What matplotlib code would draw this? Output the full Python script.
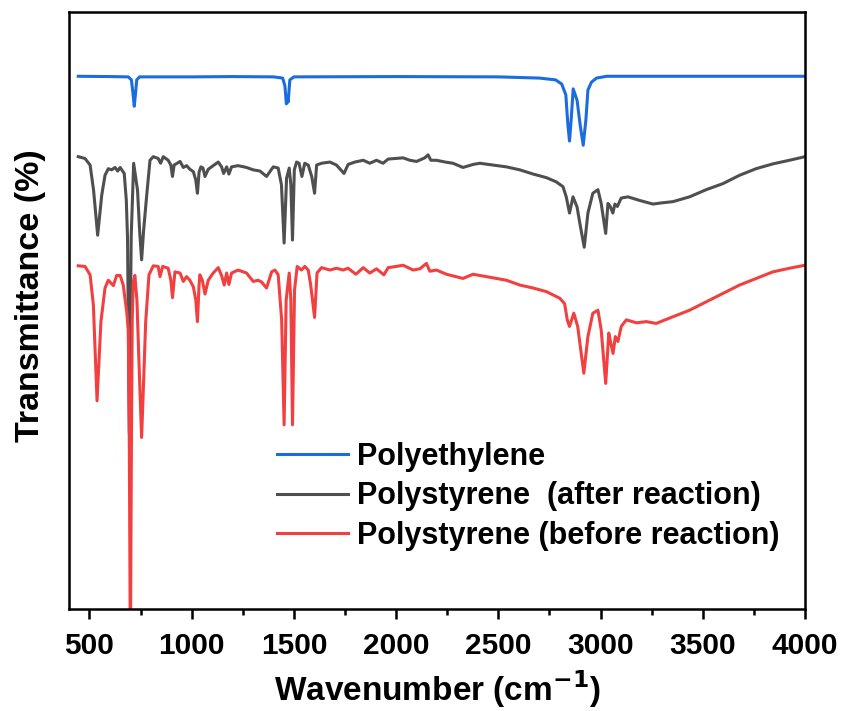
import matplotlib
matplotlib.use('Agg')
import matplotlib.pyplot as plt
from matplotlib.ticker import MultipleLocator

plt.rcParams['font.family'] = ['Liberation Sans', 'DejaVu Sans']
plt.rcParams['font.weight'] = 'bold'

# values (wavenumber in cm-1, transmittance in arbitrary %)
pe_wn = [445, 600, 690, 705, 712, 719, 726, 731, 745, 1000, 1200, 1400, 1445, 1456,
         1463, 1468, 1472, 1480, 1500, 2000, 2500, 2700, 2780, 2810, 2830, 2840, 2848,
         2856, 2866, 2885, 2900, 2915, 2928, 2938, 2955, 2980, 3030, 3500, 4000]
pe_t = [88.8, 88.75, 88.7, 88.2, 86.2, 83.8, 86.2, 88.2, 88.7, 88.7, 88.75, 88.7, 88.5, 87.2,
        84.2, 85.0, 84.5, 88.2, 88.7, 88.75, 88.7, 88.5, 88.2, 87.5, 85.7, 80.7, 78.0,
        81.5, 86.7, 84.8, 80.7, 77.3, 81.5, 86.5, 87.8, 88.5, 88.8, 88.8, 88.8]

ps_after_wn = [445, 478, 503, 520, 540, 560, 576, 592, 608, 625, 638, 650, 670, 680, 686,
               695, 704, 716, 735, 745, 755, 765, 780, 796, 812, 836, 848, 861, 885, 898,
               906, 914, 943, 959, 975, 991, 1008, 1020, 1028, 1036, 1045, 1055, 1065, 1081,
               1105, 1130, 1146, 1156, 1171, 1182, 1195, 1227, 1268, 1301, 1334, 1366, 1399,
               1423, 1439, 1452, 1464, 1477, 1485, 1493, 1502, 1513, 1525, 1539, 1553, 1570,
               1587, 1601, 1611, 1635, 1676, 1708, 1745, 1765, 1798, 1839, 1871, 1904, 1936,
               1961, 2001, 2034, 2067, 2100, 2140, 2156, 2170, 2197, 2240, 2278, 2327, 2376,
               2409, 2474, 2539, 2605, 2670, 2735, 2783, 2816, 2832, 2848, 2865, 2885, 2900,
               2920, 2938, 2962, 2987, 3003, 3025, 3036, 3047, 3060, 3070, 3082, 3101, 3134,
               3191, 3256, 3300, 3354, 3435, 3517, 3598, 3680, 3761, 3843, 3924, 4000]
ps_after_t = [75.4, 75.1, 74.0, 69.8, 62.3, 69.0, 72.3, 73.4, 73.2, 73.6, 73.0, 73.6, 72.6, 68.2, 62.0,
              29.3, 62.0, 74.3, 69.8, 63.2, 58.2, 63.2, 69.0, 74.8, 75.4, 75.1, 74.3, 75.4, 74.8, 74.0,
              72.1, 74.0, 74.6, 73.6, 73.9, 73.3, 72.9, 71.5, 69.3, 72.8, 73.7, 73.5, 72.1, 73.3,
              73.9, 74.5, 73.7, 72.6, 73.7, 72.5, 73.7, 73.9, 73.6, 73.2, 73.0, 72.1, 73.7,
              73.5, 70.7, 61.0, 71.8, 73.5, 70.7, 61.5, 73.2, 74.5, 74.3, 72.1, 74.3, 74.0,
              72.1, 69.3, 74.0, 74.3, 74.5, 74.0, 72.6, 74.1, 74.5, 74.8, 74.3, 74.8, 74.3,
              75.0, 75.1, 75.2, 74.8, 74.6, 75.2, 75.7, 74.8, 74.8, 74.5, 74.3, 73.6, 74.1,
              74.3, 74.0, 73.7, 73.2, 72.5, 71.9, 71.2, 70.4, 68.7, 66.0, 68.7, 67.0, 64.0,
              60.3, 66.0, 69.3, 69.9, 67.6, 62.6, 67.6, 67.1, 66.0, 67.5, 67.1, 68.5, 68.7,
              68.1, 67.5, 67.7, 67.9, 68.7, 69.9, 70.9, 72.3, 73.4, 74.2, 74.8, 75.4]

ps_before_wn = [445, 478, 503, 519, 537, 556, 576, 592, 617, 633, 650, 665, 682, 690, 695,
                700, 705, 709, 714, 722, 732, 745, 755, 765, 775, 791, 812, 836, 845, 858,
                885, 898, 906, 914, 918, 943, 959, 975, 991, 1008, 1020, 1028, 1036, 1040,
                1052, 1065, 1081, 1105, 1130, 1146, 1159, 1171, 1182, 1195, 1227, 1268, 1301,
                1325, 1342, 1366, 1391, 1407, 1423, 1440, 1452, 1462, 1477, 1485, 1493, 1503,
                1516, 1537, 1553, 1570, 1582, 1601, 1613, 1635, 1676, 1708, 1741, 1765, 1803,
                1839, 1871, 1904, 1940, 1961, 2001, 2034, 2058, 2083, 2116, 2148, 2165, 2197,
                2246, 2327, 2376, 2441, 2539, 2605, 2670, 2735, 2800, 2824, 2837, 2848, 2869,
                2888, 2900, 2918, 2938, 2962, 2987, 3003, 3025, 3040, 3050, 3061, 3072, 3085,
                3101, 3126, 3175, 3224, 3272, 3338, 3435, 3517, 3598, 3680, 3761, 3843, 3924, 4000]
ps_before_t = [57.2, 57.1, 55.7, 50.7, 34.7, 47.9, 53.5, 54.8, 53.9, 55.6, 55.6, 54.0, 49.6, 46.5, 26.5,
               -8.5, 26.5, 48.2, 54.5, 55.6, 51.5, 38.2, 28.6, 38.2, 47.9, 55.7, 57.2, 57.1, 55.4, 57.1,
               56.8, 54.8, 51.9, 54.8, 56.2, 56.0, 54.6, 55.4, 54.8, 53.7, 51.5, 47.9, 54.0, 55.7,
               54.8, 52.5, 54.8, 56.0, 56.9, 55.6, 54.0, 56.0, 54.1, 56.0, 56.5, 56.0, 54.6,
               54.8, 54.5, 53.5, 56.2, 56.5, 55.7, 48.2, 30.7, 51.5, 56.0, 51.5, 30.7, 53.2,
               57.1, 56.5, 57.1, 56.5, 54.0, 48.6, 56.0, 56.9, 56.5, 56.8, 56.5, 56.8, 55.8,
               56.9, 56.0, 56.7, 55.7, 56.9, 57.1, 57.3, 56.9, 56.5, 56.7, 57.6, 56.3, 56.5,
               55.8, 55.1, 55.8, 55.4, 54.8, 54.0, 53.5, 52.9, 51.8, 50.9, 48.2, 47.1, 49.3,
               47.1, 44.0, 39.3, 45.4, 49.3, 49.8, 46.5, 37.6, 46.0, 44.3, 42.6, 45.4, 44.6,
               47.1, 48.2, 47.7, 47.9, 47.6, 48.5, 49.8, 51.2, 52.6, 54.0, 55.1, 56.2, 56.8, 57.3]

labels = ['Polyethylene', 'Polystyrene  (after reaction)', 'Polystyrene (before reaction)']
colors = ['#1b6ddf', '#4f4f4f', '#f23f3f']

fig = plt.figure(figsize=(8.45, 7.11), dpi=100)
ax = fig.add_axes([0.0817, 0.1435, 0.8710, 0.8395])

ax.plot(pe_wn, pe_t, color=colors[0], lw=2.2, label=labels[0])
ax.plot(ps_after_wn, ps_after_t, color=colors[1], lw=2.2, label=labels[1])
ax.plot(ps_before_wn, ps_before_t, color=colors[2], lw=2.2, label=labels[2])

ax.set_xlim(400, 4000)
ax.set_ylim(0, 99.5)
ax.xaxis.set_major_locator(MultipleLocator(500))
ax.xaxis.set_minor_locator(MultipleLocator(250))
ax.tick_params(axis='x', which='major', direction='out', length=7, width=1.8, labelsize=21.5, pad=9.5)
ax.tick_params(axis='x', which='minor', direction='out', length=4, width=1.8)
ax.set_yticks([])
for s in ax.spines.values():
    s.set_linewidth(1.8)
for lab in ax.get_xticklabels():
    lab.set_fontweight('bold')

ax.set_xlabel('Wavenumber (cm$^{\\mathbf{-1}}$)', fontsize=24, fontweight='bold', labelpad=6)
ax.set_ylabel('Transmittance (%)', fontsize=24.5, fontweight='bold')
ax.yaxis.set_label_coords(-0.031, 0.525)

leg = ax.legend(loc='upper left', bbox_to_anchor=(0.283, 0.28), frameon=False,
                fontsize=22, handlelength=2.3, handletextpad=0.3, labelspacing=0.31,
                borderpad=0, borderaxespad=0)
for t in leg.get_texts():
    t.set_fontweight('bold')

fig.savefig('out.png', dpi=100)
